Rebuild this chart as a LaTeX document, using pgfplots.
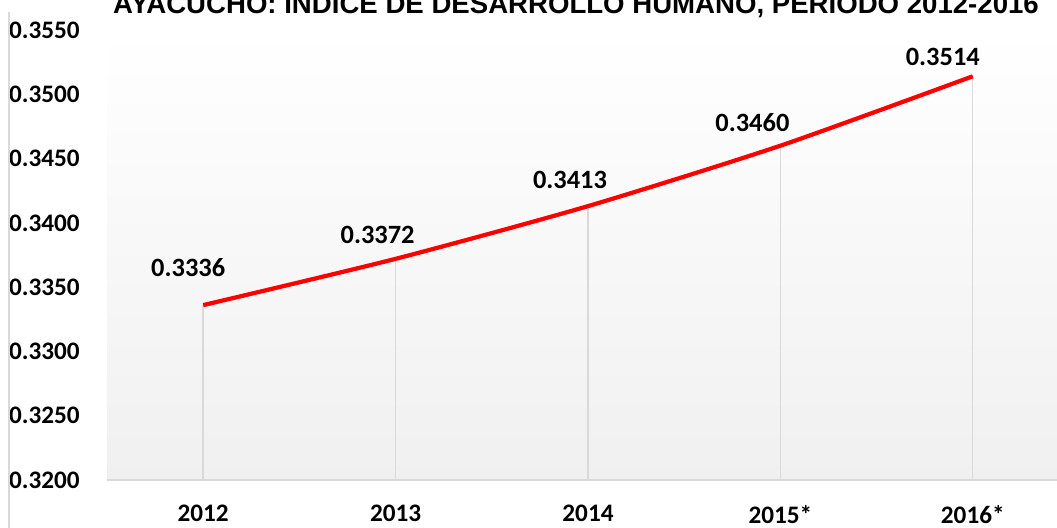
\documentclass[border=0pt]{standalone}
\usepackage{pgfplots}
\usepackage{pgfplotstable}
\pgfplotsset{compat=1.18}
\usepackage{fontspec}
\setmainfont{Carlito}
\newfontfamily\arialfont{Liberation Sans}
\definecolor{gridgray}{RGB}{217,217,217}
\definecolor{bggray}{RGB}{240,240,240}
\pgfplotstableread{
x y dx dy lab
0 0.3336 -15 38 0.3336
1 0.3372 -18 24 0.3372
2 0.3413 -18 26 0.3413
3 0.3460 -28 23 0.3460
4 0.3514 -30 19 0.3514
}\data
\begin{document}
\begin{tikzpicture}
\begin{axis}[
  at={(53.5pt,24pt)}, anchor=south west,
  scale only axis, width=481pt, height=225pt,
  xmin=-0.5, xmax=4.5, ymin=0.32, ymax=0.355,
  xtick={0,1,2,3,4},
  xticklabels={2012,2013,2014,2015*,2016*},
  ytick={0.32,0.325,0.33,0.335,0.34,0.345,0.35,0.355},
  yticklabels={0.3200,0.3250,0.3300,0.3350,0.3400,0.3450,0.3500,0.3550},
  axis x line=bottom, axis y line=left,
  x axis line style={draw=gridgray,-, line width=0.8pt},
  y axis line style={draw=none},
  tick style={draw=none},
  ticklabel style={font=\fontsize{12.6}{14}\selectfont\bfseries},
  yticklabel style={anchor=east, xshift=-8pt},
  xticklabel style={anchor=north, yshift=-7pt},
  axis background/.style={top color=white, bottom color=bggray},
  clip=true,
]
\addplot[ycomb, draw=gridgray, line width=0.7pt, mark=none] table[x=x,y=y]{\data};
\addplot[red, line width=2.1pt, smooth, tension=0.4, mark=none] table[x=x,y=y]{\data};
\addplot[draw=none, mark=none, point meta=explicit symbolic, nodes near coords,
  visualization depends on={\thisrow{dx}\as\dx},
  visualization depends on={\thisrow{dy}\as\dy},
  every node near coord/.append style={anchor=center, xshift={\dx*0.5pt}, yshift={\dy*0.5pt}, font=\fontsize{13.2}{15}\selectfont\bfseries, text=black}]
  table[x=x,y=y,meta=lab]{\data};
\end{axis}
\draw[gridgray, line width=0.7pt] (4.5pt,0) -- (4.5pt,258pt);
\node[anchor=base, inner sep=0pt, font=\arialfont\bfseries\fontsize{13.8}{16}\selectfont] at (288pt,257pt) {AYACUCHO: ÍNDICE DE DESARROLLO HUMANO, PERIODO 2012-2016};
\pgfresetboundingbox
\path[use as bounding box] (0,0) rectangle (528.5pt,264pt);
\end{tikzpicture}
\end{document}
